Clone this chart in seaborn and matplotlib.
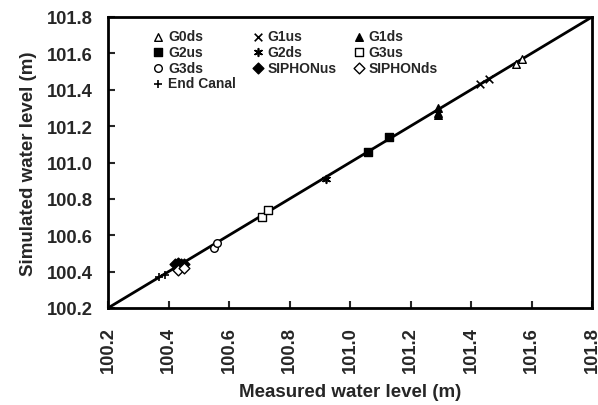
import matplotlib
matplotlib.use("Agg")
import matplotlib.pyplot as plt
import seaborn as sns
import pandas as pd

sns.set_theme(style="white")
plt.rcParams['font.family'] = ['Liberation Sans', 'DejaVu Sans']
plt.rcParams['font.weight'] = 'bold'

series_names = ["G0ds", "G1us", "G1ds", "G2us", "G2ds", "G3us",
                "G3ds", "SIPHONus", "SIPHONds", "End Canal"]
measured = {
    "G0ds": [101.55, 101.57],
    "G1us": [101.43, 101.46],
    "G1ds": [101.29, 101.29, 101.29],
    "G2us": [101.06, 101.13],
    "G2ds": [100.92],
    "G3us": [100.71, 100.73],
    "G3ds": [100.55, 100.56],
    "SIPHONus": [100.42, 100.43, 100.44, 100.45],
    "SIPHONds": [100.43, 100.45],
    "End Canal": [100.37, 100.39],
}
simulated = {
    "G0ds": [101.54, 101.57],
    "G1us": [101.43, 101.46],
    "G1ds": [101.30, 101.27, 101.26],
    "G2us": [101.06, 101.14],
    "G2ds": [100.91],
    "G3us": [100.70, 100.74],
    "G3ds": [100.53, 100.56],
    "SIPHONus": [100.44, 100.45, 100.44, 100.44],
    "SIPHONds": [100.41, 100.42],
    "End Canal": [100.37, 100.38],
}
ticks = [100.2, 100.4, 100.6, 100.8, 101.0, 101.2, 101.4, 101.6, 101.8]
line_vals = [100.2, 101.8]

styles = {
    "G0ds": dict(marker="^", fc="white"),
    "G1us": dict(marker="x", fc="black"),
    "G1ds": dict(marker="^", fc="black"),
    "G2us": dict(marker="s", fc="black"),
    "G2ds": dict(marker=(6, 2, 0), fc="black"),
    "G3us": dict(marker="s", fc="white"),
    "G3ds": dict(marker="o", fc="white"),
    "SIPHONus": dict(marker="D", fc="black"),
    "SIPHONds": dict(marker="D", fc="white"),
    "End Canal": dict(marker="+", fc="black"),
}

fig = plt.figure(figsize=(5.98, 4.06), dpi=100)
ax = fig.add_axes([108/598, 1-309/406, 484/598, 291/406])

sns.lineplot(x=line_vals, y=line_vals, ax=ax, color="black", lw=2, zorder=1)

for name in series_names:
    df = pd.DataFrame({"m": measured[name], "s": simulated[name]})
    st = styles[name]
    lined = st["marker"] in ("x", "+") or isinstance(st["marker"], tuple)
    if lined:
        sns.scatterplot(data=df, x="m", y="s", ax=ax, marker=st["marker"],
                        color="black", s=70, linewidth=1.2, label=name, zorder=3)
    else:
        sns.scatterplot(data=df, x="m", y="s", ax=ax, marker=st["marker"],
                        facecolor=st["fc"], edgecolor="black", s=70,
                        linewidth=1.0, label=name, zorder=3)

ax.set_xlim(100.2, 101.8)
ax.set_ylim(100.2, 101.8)
ax.set_xticks(ticks)
ax.set_yticks(ticks)
ax.set_xticklabels([f"{t:.1f}" for t in ticks], rotation=90, fontsize=13.2, fontweight="bold")
ax.set_yticklabels([f"{t:.1f}" for t in ticks], fontsize=13.2, fontweight="bold")
ax.tick_params(axis="x", direction="in", length=5, width=1.5, bottom=True,
               top=False, pad=13)
ax.tick_params(axis="y", direction="in", length=5, width=1.5, left=True,
               right=False, pad=11)
for sp in ax.spines.values():
    sp.set_color("black")
    sp.set_linewidth(2)
ax.set_xlabel("Measured water level (m)", fontsize=13.5, fontweight="bold", labelpad=8)
ax.set_ylabel("Simulated water level (m)", fontsize=13.5, fontweight="bold", labelpad=7)

h, l = ax.get_legend_handles_labels()
hmap = dict(zip(l, h))
leg_order = ["G0ds", "G2us", "G3ds", "End Canal", "G1us", "G2ds",
             "SIPHONus", "G1ds", "G3us", "SIPHONds"]
hs = [hmap[n] for n in leg_order]
for hh in hs:
    try:
        hh.set_sizes([30])
    except Exception:
        pass
leg = ax.legend(hs, leg_order, ncol=3, frameon=False, loc="upper left",
                bbox_to_anchor=(0.075, 0.977), fontsize=10,
                handletextpad=0.1, columnspacing=1.0, labelspacing=0.12,
                handlelength=1.2, borderaxespad=0)
for t in leg.get_texts():
    t.set_fontweight("bold")

fig.savefig("out.png", dpi=100, facecolor="white")
